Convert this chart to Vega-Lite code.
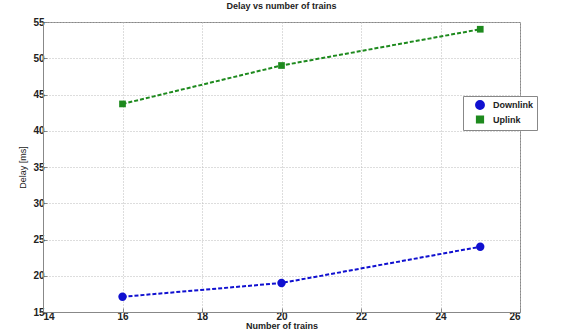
{
  "$schema": "https://vega.github.io/schema/vega-lite/v6.json",
  "width": 477,
  "height": 290,
  "autosize": {"type": "none"},
  "padding": {"left": 43, "top": 22, "right": 46, "bottom": 23},
  "background": "white",
  "title": {"text": "Delay vs number of trains", "fontSize": 9, "font": "Liberation Sans", "fontWeight": "bold", "color": "#222", "offset": 6},
  "config": {
    "view": {"stroke": "#888", "strokeWidth": 1},
    "axis": {"labelFont": "Liberation Sans", "labelFontWeight": "bold", "labelFontSize": 10, "labelColor": "#222", "titleFont": "Liberation Sans", "titleFontSize": 9, "titleColor": "#222", "grid": true, "gridColor": "#bbb", "gridDash": [1, 2], "domainColor": "#888", "tickColor": "#888", "tickSize": -4, "labelPadding": 3}
  },
  "data": {"values": [
    {"trains": 16, "delay": 17.1, "link": "Downlink"},
    {"trains": 20, "delay": 19.0, "link": "Downlink"},
    {"trains": 25, "delay": 24.0, "link": "Downlink"},
    {"trains": 16, "delay": 43.7, "link": "Uplink"},
    {"trains": 20, "delay": 49.0, "link": "Uplink"},
    {"trains": 25, "delay": 54.0, "link": "Uplink"}
  ]},
  "encoding": {
    "x": {"field": "trains", "type": "quantitative", "scale": {"domain": [14, 26], "nice": false}, "axis": {"values": [14, 16, 18, 20, 22, 24, 26], "title": "Number of trains", "titleFontWeight": "bold", "titlePadding": 0}},
    "y": {"field": "delay", "type": "quantitative", "scale": {"domain": [15, 55], "nice": false, "zero": false}, "axis": {"values": [15, 20, 25, 30, 35, 40, 45, 50, 55], "title": "Delay [ms]", "titleFontWeight": "normal", "titlePadding": 5}},
    "color": {"field": "link", "type": "nominal", "scale": {"domain": ["Downlink", "Uplink"], "range": ["#1010d0", "#1e8a1e"]}, "legend": {"title": null, "orient": "none", "legendX": 420, "legendY": 74, "labelFont": "Liberation Sans", "labelFontWeight": "bold", "labelFontSize": 9, "labelColor": "#222", "strokeColor": "#888", "fillColor": "white", "padding": 4, "symbolSize": 30, "symbolOffset": 8, "labelOffset": 8, "rowPadding": 0}}
  },
  "layer": [
    {"mark": {"type": "line", "strokeDash": [4, 2], "strokeWidth": 2}},
    {"mark": {"type": "point", "filled": true, "opacity": 1}, "encoding": {
      "shape": {"field": "link", "type": "nominal", "scale": {"domain": ["Downlink", "Uplink"], "range": ["circle", "square"]}, "legend": {"title": null, "orient": "none", "legendX": 420, "legendY": 74, "labelFont": "Liberation Sans", "labelFontWeight": "bold", "labelFontSize": 9, "labelColor": "#222", "strokeColor": "#888", "fillColor": "white", "padding": 4, "symbolSize": 30, "symbolOffset": 8, "labelOffset": 8, "rowPadding": 0}},
      "size": {"field": "link", "type": "nominal", "scale": {"domain": ["Downlink", "Uplink"], "range": [70, 45]}, "legend": null}
    }}
  ]
}
